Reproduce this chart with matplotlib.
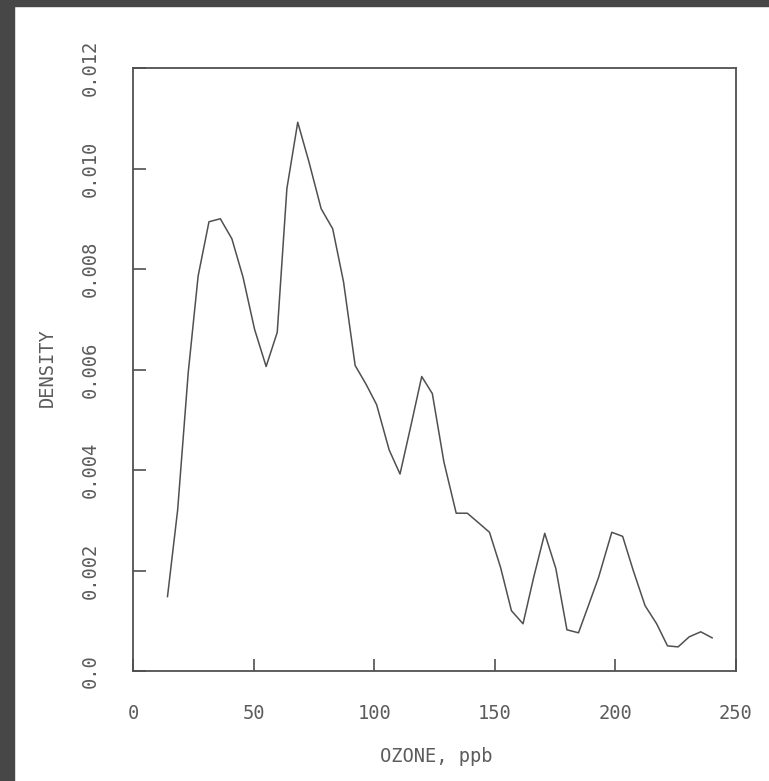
import matplotlib
matplotlib.use("Agg")
import matplotlib.pyplot as plt
from matplotlib.patches import Rectangle

# density estimate of ozone concentration
ozone_ppb = [14.3, 18.5, 22.9, 27.0, 31.5, 36.2, 41.0, 45.6, 50.4, 55.2,
             59.8, 63.8, 68.3, 72.9, 78.0, 82.8, 87.3, 92.1, 96.7, 101.0,
             106.2, 110.7, 115.3, 119.7, 124.1, 128.9, 134.0, 138.6, 143.0, 147.8,
             152.4, 156.9, 161.7, 166.1, 170.7, 175.3, 179.9, 184.7, 188.8, 193.0,
             198.5, 203.0, 207.4, 212.3, 217.1, 221.6, 226.0, 230.6, 235.4, 240.1]
density = [0.00148, 0.00320, 0.00594, 0.00786, 0.00894, 0.00900, 0.00860, 0.00784, 0.00680, 0.00606,
           0.00674, 0.00960, 0.01092, 0.01014, 0.00920, 0.00880, 0.00774, 0.00608, 0.00570, 0.00530,
           0.00440, 0.00392, 0.00490, 0.00586, 0.00552, 0.00416, 0.00314, 0.00314, 0.00296, 0.00276,
           0.00206, 0.00120, 0.00094, 0.00186, 0.00274, 0.00204, 0.00082, 0.00076, 0.00130, 0.00186,
           0.00276, 0.00268, 0.00200, 0.00130, 0.00094, 0.00050, 0.00048, 0.00068, 0.00078, 0.00066]

xticks = [0, 50, 100, 150, 200, 250]
yticks = [0.0, 0.002, 0.004, 0.006, 0.008, 0.010, 0.012]
ytick_labels = ["0.0", "0.002", "0.004", "0.006", "0.008", "0.010", "0.012"]

ink = "#505050"
text_ink = "#5c5c5c"
font = "DejaVu Sans Mono"

fig = plt.figure(figsize=(7.69, 7.81), dpi=100)
W, H = 769, 781

# dark scan border on top and left
fig.patches.append(Rectangle((0, 1 - 6 / H), 1, 6 / H, transform=fig.transFigure,
                             color="#474747", zorder=0))
fig.patches.append(Rectangle((0, 0), 14 / W, 1, transform=fig.transFigure,
                             color="#474747", zorder=0))

ax = fig.add_axes([133 / W, 1 - 671 / H, (736 - 133) / W, (671 - 68) / H])
ax.plot(ozone_ppb, density, color=ink, lw=1.1)

ax.set_xlim(0, 250)
ax.set_ylim(0, 0.012)
ax.set_xticks(xticks)
ax.set_xticklabels([str(t) for t in xticks])
ax.set_yticks(yticks)
ax.set_yticklabels(ytick_labels, rotation=90, va="center")

ax.tick_params(direction="in", length=9, width=1.2, color=ink, labelcolor=text_ink,
               labelsize=13.5, pad=24)
for lbl in ax.get_xticklabels() + ax.get_yticklabels():
    lbl.set_family(font)
for sp in ax.spines.values():
    sp.set_color(ink)
    sp.set_linewidth(1.3)

fig.text(436 / W, 1 - 757 / H, "OZONE, ppb", ha="center", va="center",
         family=font, fontsize=13.5, color=text_ink)
fig.text(47 / W, 1 - 368 / H, "DENSITY", ha="center", va="center", rotation=90,
         family=font, fontsize=13.5, color=text_ink)

fig.savefig("out.png", dpi=100, facecolor="white")
